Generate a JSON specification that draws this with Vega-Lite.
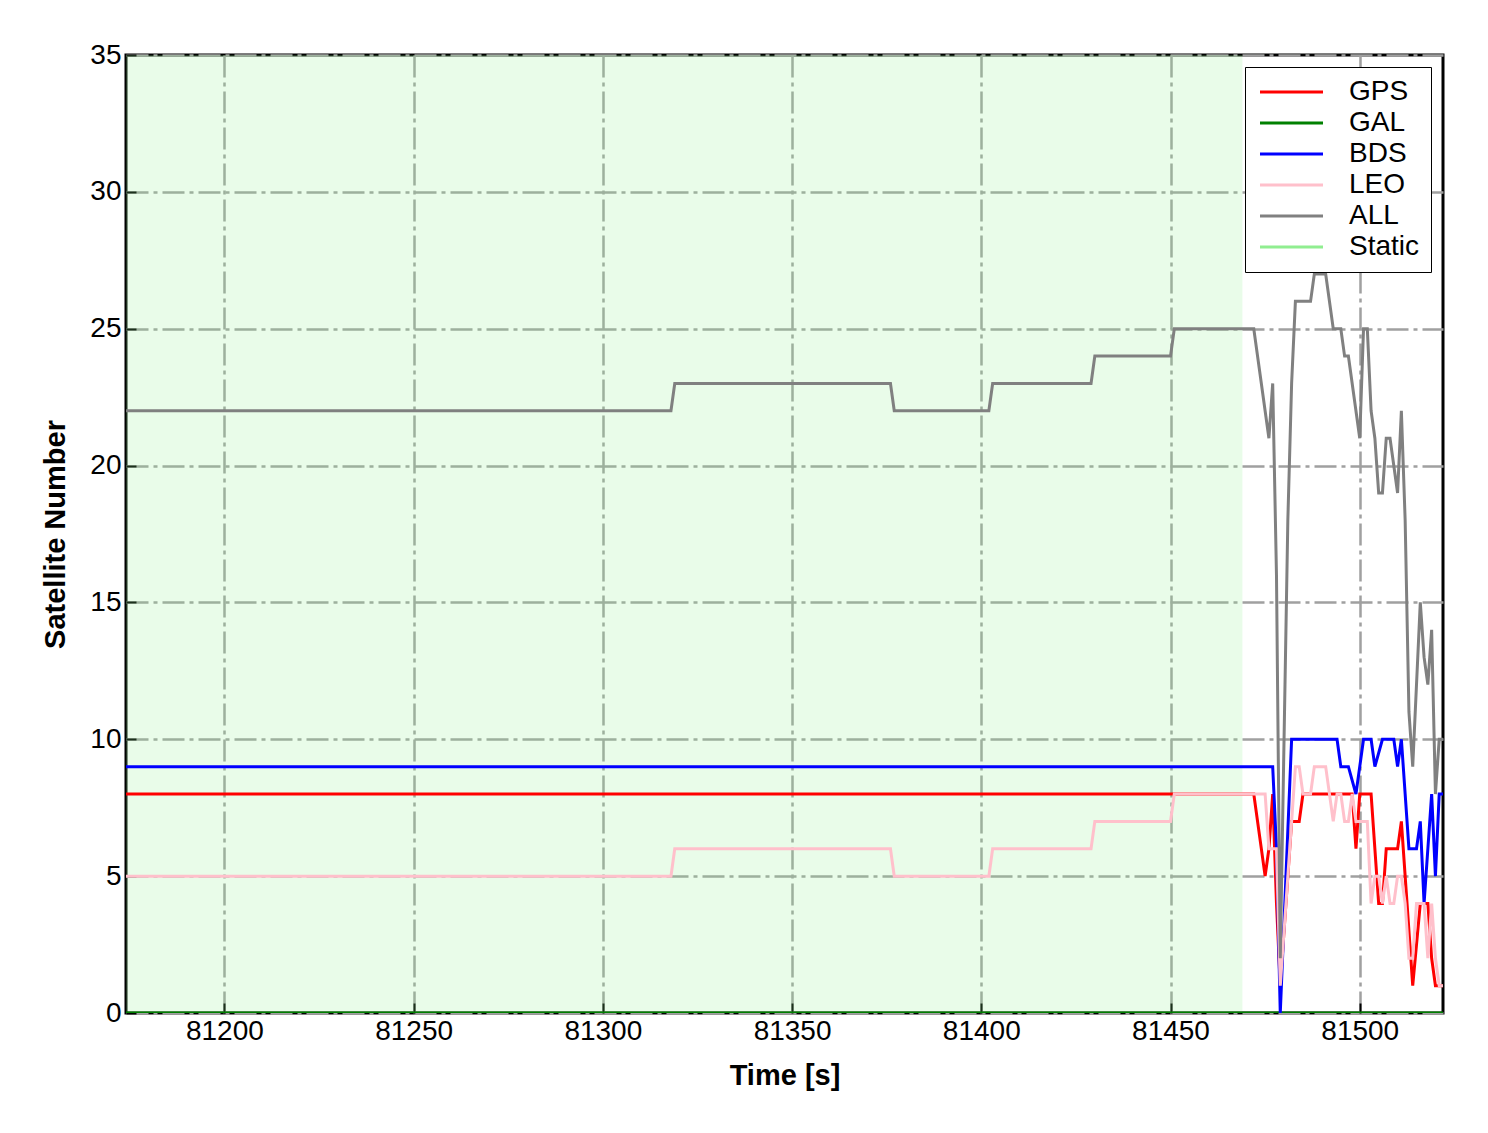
{
  "$schema": "https://vega.github.io/schema/vega-lite/v6.json",
  "width": 1317,
  "height": 958,
  "autosize": {"type": "none"},
  "padding": {"left": 126, "top": 55, "right": 45, "bottom": 120},
  "background": "white",
  "config": {
    "view": {"stroke": "black", "strokeWidth": 3},
    "font": "Liberation Sans",
    "axis": {
      "domain": false,
      "grid": true,
      "gridColor": "#a0a0a0",
      "gridWidth": 2.5,
      "gridDash": [22, 5, 4, 5],
      "ticks": true,
      "tickColor": "black",
      "tickSize": -10,
      "tickWidth": 2,
      "labelFont": "Liberation Sans",
      "labelFontSize": 28,
      "labelColor": "black",
      "titleFont": "Liberation Sans",
      "titleFontSize": 29,
      "titleFontWeight": "bold",
      "titleColor": "black"
    }
  },
  "datasets": {
    "static": [{"series": "Static", "start": 81174, "end": 81469}],
    "sat": [
      {"series": "GPS", "time": 81174, "count": 8},
      {"series": "GPS", "time": 81472, "count": 8},
      {"series": "GPS", "time": 81475, "count": 5},
      {"series": "GPS", "time": 81476, "count": 6},
      {"series": "GPS", "time": 81477, "count": 8},
      {"series": "GPS", "time": 81478, "count": 4},
      {"series": "GPS", "time": 81479, "count": 1},
      {"series": "GPS", "time": 81480, "count": 3},
      {"series": "GPS", "time": 81482, "count": 7},
      {"series": "GPS", "time": 81484, "count": 7},
      {"series": "GPS", "time": 81485, "count": 8},
      {"series": "GPS", "time": 81498, "count": 8},
      {"series": "GPS", "time": 81499, "count": 6},
      {"series": "GPS", "time": 81500, "count": 8},
      {"series": "GPS", "time": 81503, "count": 8},
      {"series": "GPS", "time": 81505, "count": 4},
      {"series": "GPS", "time": 81506, "count": 4},
      {"series": "GPS", "time": 81507, "count": 6},
      {"series": "GPS", "time": 81510, "count": 6},
      {"series": "GPS", "time": 81511, "count": 7},
      {"series": "GPS", "time": 81514, "count": 1},
      {"series": "GPS", "time": 81516, "count": 4},
      {"series": "GPS", "time": 81518, "count": 4},
      {"series": "GPS", "time": 81519, "count": 2},
      {"series": "GPS", "time": 81520, "count": 1},
      {"series": "GPS", "time": 81522, "count": 1},
      {"series": "GAL", "time": 81174, "count": 0},
      {"series": "GAL", "time": 81522, "count": 0},
      {"series": "BDS", "time": 81174, "count": 9},
      {"series": "BDS", "time": 81477, "count": 9},
      {"series": "BDS", "time": 81478, "count": 6},
      {"series": "BDS", "time": 81479, "count": 0},
      {"series": "BDS", "time": 81482, "count": 10},
      {"series": "BDS", "time": 81494, "count": 10},
      {"series": "BDS", "time": 81495, "count": 9},
      {"series": "BDS", "time": 81497, "count": 9},
      {"series": "BDS", "time": 81499, "count": 8},
      {"series": "BDS", "time": 81501, "count": 10},
      {"series": "BDS", "time": 81503, "count": 10},
      {"series": "BDS", "time": 81504, "count": 9},
      {"series": "BDS", "time": 81506, "count": 10},
      {"series": "BDS", "time": 81509, "count": 10},
      {"series": "BDS", "time": 81510, "count": 9},
      {"series": "BDS", "time": 81511, "count": 10},
      {"series": "BDS", "time": 81513, "count": 6},
      {"series": "BDS", "time": 81515, "count": 6},
      {"series": "BDS", "time": 81516, "count": 7},
      {"series": "BDS", "time": 81517, "count": 4},
      {"series": "BDS", "time": 81519, "count": 8},
      {"series": "BDS", "time": 81520, "count": 5},
      {"series": "BDS", "time": 81521, "count": 8},
      {"series": "BDS", "time": 81522, "count": 8},
      {"series": "LEO", "time": 81174, "count": 5},
      {"series": "LEO", "time": 81318, "count": 5},
      {"series": "LEO", "time": 81319, "count": 6},
      {"series": "LEO", "time": 81376, "count": 6},
      {"series": "LEO", "time": 81377, "count": 5},
      {"series": "LEO", "time": 81402, "count": 5},
      {"series": "LEO", "time": 81403, "count": 6},
      {"series": "LEO", "time": 81429, "count": 6},
      {"series": "LEO", "time": 81430, "count": 7},
      {"series": "LEO", "time": 81450, "count": 7},
      {"series": "LEO", "time": 81451, "count": 8},
      {"series": "LEO", "time": 81475, "count": 8},
      {"series": "LEO", "time": 81476, "count": 6},
      {"series": "LEO", "time": 81478, "count": 6},
      {"series": "LEO", "time": 81479, "count": 1},
      {"series": "LEO", "time": 81483, "count": 9},
      {"series": "LEO", "time": 81484, "count": 9},
      {"series": "LEO", "time": 81485, "count": 8},
      {"series": "LEO", "time": 81487, "count": 8},
      {"series": "LEO", "time": 81488, "count": 9},
      {"series": "LEO", "time": 81491, "count": 9},
      {"series": "LEO", "time": 81493, "count": 7},
      {"series": "LEO", "time": 81494, "count": 8},
      {"series": "LEO", "time": 81495, "count": 8},
      {"series": "LEO", "time": 81496, "count": 7},
      {"series": "LEO", "time": 81497, "count": 7},
      {"series": "LEO", "time": 81498, "count": 8},
      {"series": "LEO", "time": 81499, "count": 7},
      {"series": "LEO", "time": 81502, "count": 7},
      {"series": "LEO", "time": 81503, "count": 4},
      {"series": "LEO", "time": 81504, "count": 5},
      {"series": "LEO", "time": 81505, "count": 5},
      {"series": "LEO", "time": 81506, "count": 4},
      {"series": "LEO", "time": 81507, "count": 5},
      {"series": "LEO", "time": 81508, "count": 4},
      {"series": "LEO", "time": 81509, "count": 4},
      {"series": "LEO", "time": 81510, "count": 5},
      {"series": "LEO", "time": 81511, "count": 5},
      {"series": "LEO", "time": 81512, "count": 4},
      {"series": "LEO", "time": 81513, "count": 2},
      {"series": "LEO", "time": 81514, "count": 2},
      {"series": "LEO", "time": 81515, "count": 4},
      {"series": "LEO", "time": 81517, "count": 4},
      {"series": "LEO", "time": 81518, "count": 2},
      {"series": "LEO", "time": 81519, "count": 4},
      {"series": "LEO", "time": 81520, "count": 2},
      {"series": "LEO", "time": 81521, "count": 1},
      {"series": "LEO", "time": 81522, "count": 1},
      {"series": "ALL", "time": 81174, "count": 22},
      {"series": "ALL", "time": 81318, "count": 22},
      {"series": "ALL", "time": 81319, "count": 23},
      {"series": "ALL", "time": 81376, "count": 23},
      {"series": "ALL", "time": 81377, "count": 22},
      {"series": "ALL", "time": 81402, "count": 22},
      {"series": "ALL", "time": 81403, "count": 23},
      {"series": "ALL", "time": 81429, "count": 23},
      {"series": "ALL", "time": 81430, "count": 24},
      {"series": "ALL", "time": 81450, "count": 24},
      {"series": "ALL", "time": 81451, "count": 25},
      {"series": "ALL", "time": 81472, "count": 25},
      {"series": "ALL", "time": 81476, "count": 21},
      {"series": "ALL", "time": 81477, "count": 23},
      {"series": "ALL", "time": 81478, "count": 16},
      {"series": "ALL", "time": 81479, "count": 2},
      {"series": "ALL", "time": 81480, "count": 10},
      {"series": "ALL", "time": 81481, "count": 18},
      {"series": "ALL", "time": 81482, "count": 23},
      {"series": "ALL", "time": 81483, "count": 26},
      {"series": "ALL", "time": 81487, "count": 26},
      {"series": "ALL", "time": 81488, "count": 27},
      {"series": "ALL", "time": 81491, "count": 27},
      {"series": "ALL", "time": 81493, "count": 25},
      {"series": "ALL", "time": 81495, "count": 25},
      {"series": "ALL", "time": 81496, "count": 24},
      {"series": "ALL", "time": 81497, "count": 24},
      {"series": "ALL", "time": 81500, "count": 21},
      {"series": "ALL", "time": 81501, "count": 25},
      {"series": "ALL", "time": 81502, "count": 25},
      {"series": "ALL", "time": 81503, "count": 22},
      {"series": "ALL", "time": 81504, "count": 21},
      {"series": "ALL", "time": 81505, "count": 19},
      {"series": "ALL", "time": 81506, "count": 19},
      {"series": "ALL", "time": 81507, "count": 21},
      {"series": "ALL", "time": 81508, "count": 21},
      {"series": "ALL", "time": 81510, "count": 19},
      {"series": "ALL", "time": 81511, "count": 22},
      {"series": "ALL", "time": 81512, "count": 18},
      {"series": "ALL", "time": 81513, "count": 11},
      {"series": "ALL", "time": 81514, "count": 9},
      {"series": "ALL", "time": 81516, "count": 15},
      {"series": "ALL", "time": 81517, "count": 13},
      {"series": "ALL", "time": 81518, "count": 12},
      {"series": "ALL", "time": 81519, "count": 14},
      {"series": "ALL", "time": 81520, "count": 8},
      {"series": "ALL", "time": 81521, "count": 10},
      {"series": "ALL", "time": 81522, "count": 10}
    ]
  },
  "encoding": {
    "x": {
      "type": "quantitative",
      "scale": {"domain": [81174, 81522], "nice": false, "zero": false},
      "axis": {"title": "Time [s]", "values": [81200, 81250, 81300, 81350, 81400, 81450, 81500], "format": "d", "labelPadding": 14, "titlePadding": 16}
    },
    "y": {
      "type": "quantitative",
      "scale": {"domain": [0, 35], "nice": false, "zero": false},
      "axis": {"title": "Satellite Number", "values": [0, 5, 10, 15, 20, 25, 30, 35], "labelPadding": 15, "titlePadding": 19}
    },
    "color": {
      "field": "series",
      "type": "nominal",
      "scale": {
        "domain": ["GPS", "GAL", "BDS", "LEO", "ALL", "Static"],
        "range": ["#ff0000", "#008000", "#0000ff", "#ffc0cb", "#808080", "#90ee90"]
      },
      "legend": {
        "title": null,
        "orient": "top-right",
        "offset": 12,
        "padding": 11,
        "strokeColor": "black",
        "fillColor": "white",
        "cornerRadius": 0,
        "symbolType": "M-1,0H5.3",
        "symbolSize": 400,
        "symbolStrokeWidth": 3,
        "symbolOpacity": 1,
        "labelFont": "Liberation Sans",
        "labelFontSize": 28,
        "labelColor": "black",
        "labelOffset": 65,
        "rowPadding": 3,
        "encode": {
          "legend": {"strokeWidth": {"value": 3}},
          "labels": {
            "font": {"condition": {"test": "datum.value === 'Static'", "value": "Liberation Serif"}, "value": "Liberation Sans"},
            "fontStyle": {"condition": {"test": "datum.value === 'Static'", "value": "italic"}, "value": "normal"}
          }
        }
      }
    }
  },
  "layer": [
    {
      "data": {"name": "static"},
      "mark": {"type": "rect", "opacity": 0.2},
      "encoding": {
        "x": {"field": "start", "type": "quantitative"},
        "x2": {"field": "end"},
        "y": {"datum": 0, "type": "quantitative"},
        "y2": {"datum": 35}
      }
    },
    {
      "data": {"name": "sat"},
      "transform": [{"filter": "datum.series === 'GPS'"}],
      "mark": {"type": "line", "strokeWidth": 3, "clip": true},
      "encoding": {
        "x": {"field": "time", "type": "quantitative"},
        "y": {"field": "count", "type": "quantitative"}
      }
    },
    {
      "data": {"name": "sat"},
      "transform": [{"filter": "datum.series === 'GAL'"}],
      "mark": {"type": "line", "strokeWidth": 3, "clip": true},
      "encoding": {
        "x": {"field": "time", "type": "quantitative"},
        "y": {"field": "count", "type": "quantitative"}
      }
    },
    {
      "data": {"name": "sat"},
      "transform": [{"filter": "datum.series === 'BDS'"}],
      "mark": {"type": "line", "strokeWidth": 3, "clip": true},
      "encoding": {
        "x": {"field": "time", "type": "quantitative"},
        "y": {"field": "count", "type": "quantitative"}
      }
    },
    {
      "data": {"name": "sat"},
      "transform": [{"filter": "datum.series === 'LEO'"}],
      "mark": {"type": "line", "strokeWidth": 3, "clip": true},
      "encoding": {
        "x": {"field": "time", "type": "quantitative"},
        "y": {"field": "count", "type": "quantitative"}
      }
    },
    {
      "data": {"name": "sat"},
      "transform": [{"filter": "datum.series === 'ALL'"}],
      "mark": {"type": "line", "strokeWidth": 3, "clip": true},
      "encoding": {
        "x": {"field": "time", "type": "quantitative"},
        "y": {"field": "count", "type": "quantitative"}
      }
    }
  ]
}
